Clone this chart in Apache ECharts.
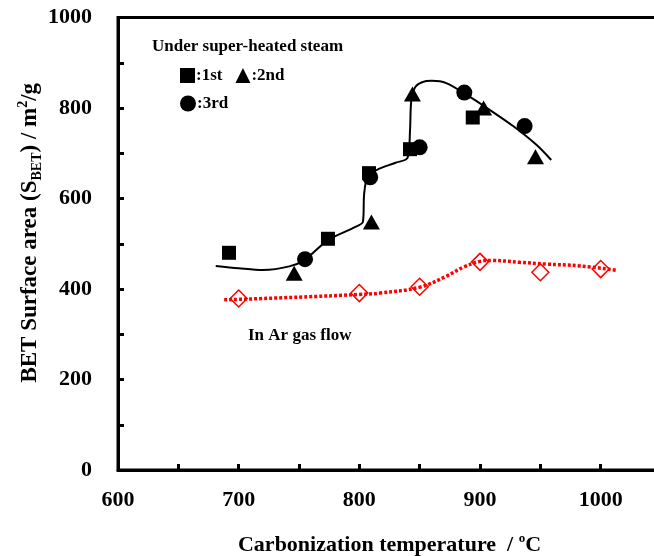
<!DOCTYPE html>
<html>
<head>
<meta charset="utf-8">
<script src="https://cdn.jsdelivr.net/npm/echarts@6/dist/echarts.min.js"></script>
<style>
  html, body { margin: 0; padding: 0; background: #fff; }
  #main { width: 654px; height: 556px; }
</style>
</head>
<body>
<div id="main"></div>
<script>
// values: [temperature, S_BET]
const run1 = [[692, 480], [774, 511], [808, 656], [842, 709], [894, 779]];
const run2 = [[746, 435], [810, 548], [844, 831], [903, 800], [946, 692]];
const run3 = [[755, 466], [809, 647], [850, 713], [887, 834], [937, 760]];

const argonTemp = [700, 800, 850, 900, 950, 1000];
const argonArea = [379, 391, 405, 460, 437, 444];

// hand drawn trend lines
const steamTrend = [[681, 451], [700, 446], [720, 442], [742, 450], [755, 465], [774, 508],
    [795, 535], [803, 549], [804, 610], [807, 650], [815, 664], [830, 679], [840, 690],
    [842, 750], [843, 815], [846, 845], [852, 857], [860, 860], [872, 855], [889, 829],
    [908, 796], [928, 759], [947, 718], [959, 685]];
const argonTrend = [[688, 376], [750, 382], [800, 388], [817, 391], [850, 404], [872, 428],
    [886, 448], [900, 461], [910, 463], [933, 459], [955, 455], [983, 451], [1014, 441]];

const serif = "'Liberation Serif', 'Times New Roman', serif";

let argonData = [];
for (let i = 0; i < argonTemp.length; i++) {
    argonData.push([argonTemp[i], argonArea[i]]);
}

let myChart = echarts.init(document.getElementById('main'));
let option = {
    animation: false,
    grid: {
        left: 118, top: 17.5, right: -7, bottom: 86,
        outerBoundsMode: 'none', containLabel: false,
        show: true, borderColor: '#000', borderWidth: 3
    },
    legend: [
        {
            data: ['1st', '2nd'],
            left: 175, top: 62,
            itemWidth: 15, itemHeight: 15, itemGap: 13,
            formatter: ':{name}',
            textStyle: { fontFamily: serif, fontWeight: 'bold', fontSize: 17, color: '#000', padding: [0, 0, 0, -4] }
        },
        {
            data: ['3rd'],
            left: 175, top: 90,
            itemWidth: 16, itemHeight: 16,
            formatter: ':{name}',
            textStyle: { fontFamily: serif, fontWeight: 'bold', fontSize: 17, color: '#000', padding: [0, 0, 0, -4] }
        }
    ],
    graphic: [
        {
            type: 'text', left: 152, top: 38,
            style: { text: 'Under super-heated steam', font: 'bold 17px ' + serif, fill: '#000' }
        },
        {
            type: 'text', left: 248, top: 327,
            style: { text: 'In Ar gas flow', font: 'bold 17px ' + serif, fill: '#000' }
        }
    ],
    xAxis: {
        type: 'value', min: 600, max: 1050, interval: 50,
        name: 'Carbonization temperature  / {sup|o}C',
        nameLocation: 'middle', nameGap: 62, nameMoveOverlap: false,
        nameTextStyle: {
            fontFamily: serif, fontWeight: 'bold', fontSize: 22, color: '#000',
            rich: { sup: { fontFamily: serif, fontWeight: 'bold', fontSize: 13, verticalAlign: 'top', lineHeight: 26 } }
        },
        axisLine: { lineStyle: { color: '#000', width: 3 } },
        axisTick: { inside: true, length: 6, lineStyle: { color: '#000', width: 3 } },
        axisLabel: {
            margin: 19, fontFamily: serif, fontWeight: 'bold', fontSize: 22, color: '#000',
            formatter: function (v) { return v % 100 === 0 ? v : ''; }
        },
        splitLine: { show: false }
    },
    yAxis: {
        type: 'value', min: 0, max: 1000, interval: 100,
        name: 'BET Surface area (S{sub|BET}) / m{sup|2}/g',
        nameLocation: 'middle', nameGap: 74, nameMoveOverlap: false,
        nameTextStyle: {
            fontFamily: serif, fontWeight: 'bold', fontSize: 23, color: '#000', lineHeight: 28,
            padding: [0, 0, 0, 22],
            rich: {
                sub: { fontFamily: serif, fontWeight: 'bold', fontSize: 14, verticalAlign: 'bottom', lineHeight: 28 },
                sup: { fontFamily: serif, fontWeight: 'bold', fontSize: 14, verticalAlign: 'top', lineHeight: 28 }
            }
        },
        axisLine: { lineStyle: { color: '#000', width: 3 } },
        axisTick: { inside: true, length: 6, lineStyle: { color: '#000', width: 3 } },
        axisLabel: {
            margin: 26, fontFamily: serif, fontWeight: 'bold', fontSize: 22, color: '#000',
            formatter: function (v) { return v % 200 === 0 ? v : ''; }
        },
        splitLine: { show: false }
    },
    series: [
        {
            name: 'steam trend', type: 'line', data: steamTrend,
            smooth: 0.3, symbol: 'none',
            lineStyle: { color: '#000', width: 2 }, z: 2
        },
        {
            name: 'Ar trend', type: 'line', data: argonTrend,
            smooth: 0.4, symbol: 'none',
            lineStyle: { color: '#ff0000', width: 3.5, type: [3, 2] }, z: 2
        },
        {
            name: 'In Ar gas flow', type: 'scatter', data: argonData,
            symbol: 'diamond', symbolSize: 17,
            itemStyle: { color: 'rgba(0,0,0,0)', borderColor: '#ff0000', borderWidth: 1.5, opacity: 1 }, z: 3
        },
        {
            name: '1st', type: 'scatter', data: run1,
            symbol: 'rect', symbolSize: 14,
            itemStyle: { color: '#000', opacity: 1 }, z: 4
        },
        {
            name: '2nd', type: 'scatter', data: run2,
            symbol: 'triangle', symbolSize: [17, 15],
            itemStyle: { color: '#000', opacity: 1 }, z: 4
        },
        {
            name: '3rd', type: 'scatter', data: run3,
            symbol: 'circle', symbolSize: 16,
            itemStyle: { color: '#000', opacity: 1 }, z: 4
        }
    ]
};
myChart.setOption(option);
</script>
</body>
</html>
